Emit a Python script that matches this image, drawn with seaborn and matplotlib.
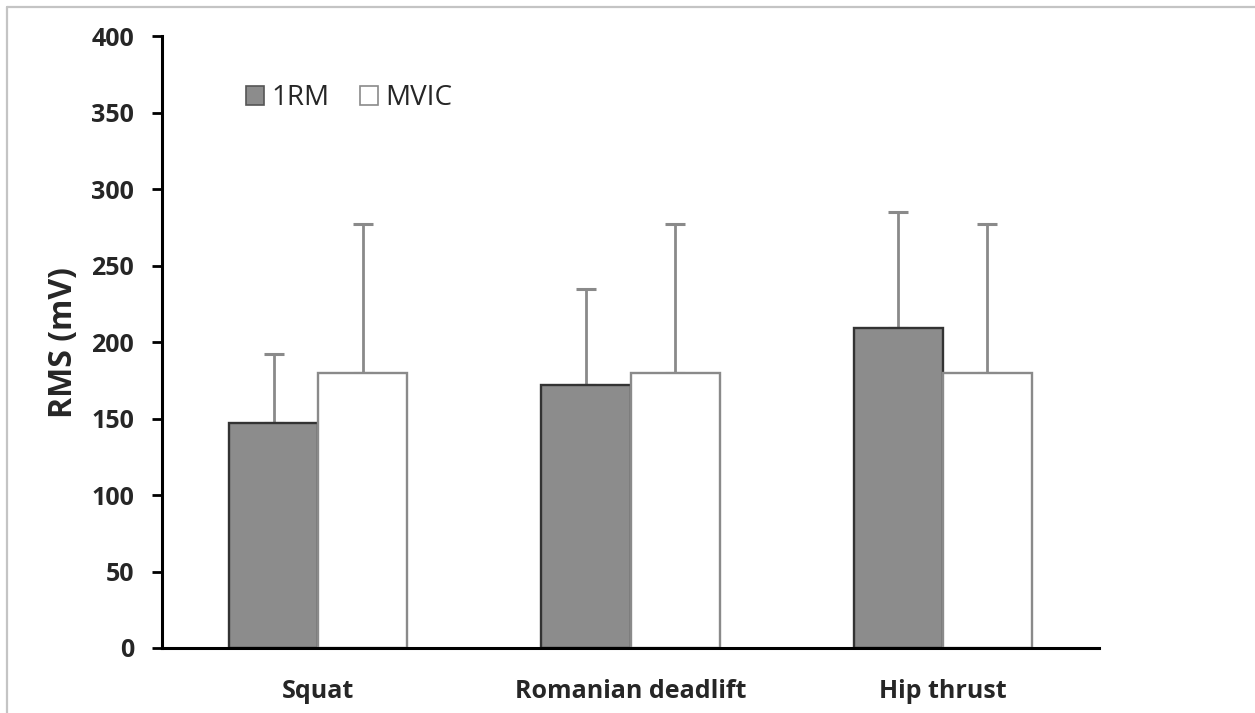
import matplotlib
matplotlib.use("Agg")
import matplotlib.pyplot as plt
from matplotlib.lines import Line2D
import seaborn as sns
import pandas as pd

# Mean RMS amplitude per exercise and condition, with standard deviations
exercises = ["Squat", "Romanian deadlift", "Hip thrust"]
conditions = ["1RM", "MVIC"]
rm_mean = [147, 172, 209]
rm_sd = [45, 63, 76]
mvic_mean = [180, 180, 180]
mvic_sd = [97, 97, 97]
y_ticks = [0, 50, 100, 150, 200, 250, 300, 350, 400]

df = pd.DataFrame({
    "exercise": exercises * 2,
    "condition": [conditions[0]] * 3 + [conditions[1]] * 3,
    "rms": rm_mean + mvic_mean,
})
sds = {conditions[0]: rm_sd, conditions[1]: mvic_sd}

sns.set_theme(style="white")
plt.rcParams["font.family"] = ["Open Sans", "DejaVu Sans"]

fig = plt.figure(figsize=(12.55, 7.13), dpi=100)
ax = fig.add_axes([0.1291, 0.0912, 0.7466, 0.8579])

fills = {"1RM": "#8c8c8c", "MVIC": "#ffffff"}
edges = {"1RM": "#333333", "MVIC": "#8a8a8a"}

sns.barplot(data=df, x="exercise", y="rms", hue="condition",
            hue_order=conditions, order=exercises, palette=fills,
            width=0.57, errorbar=None, saturation=1, ax=ax, zorder=2)

# Outline colours and one-sided SD whiskers for each bar
for cond, cont in zip(conditions, ax.containers):
    for bar, sd in zip(cont, sds[cond]):
        bar.set_edgecolor(edges[cond])
        bar.set_linewidth(1.7)
        xc = bar.get_x() + bar.get_width() / 2
        ax.errorbar(xc, bar.get_height(), yerr=[[0], [sd]], fmt="none",
                    ecolor="#8a8a8a", elinewidth=2.0, capsize=7,
                    capthick=2.2, zorder=1)

ax.set_xlim(-0.5, 2.5)
ax.set_ylim(0, 400)
ax.set_yticks(y_ticks)
ax.set_yticklabels([str(t) for t in y_ticks], fontsize=18, fontweight="bold")
ax.set_xticks(range(len(exercises)))
ax.set_xticklabels(exercises, fontsize=18, fontweight="bold")
ax.tick_params(axis="y", direction="out", length=7, width=2, color="black",
               pad=13, left=True)
ax.tick_params(axis="x", length=0, pad=22)
ax.set_xlabel("")
ax.set_ylabel("RMS (mV)", fontsize=23, fontweight="bold")
ax.yaxis.set_label_coords(-0.0875, 0.5)

for side in ["top", "right"]:
    ax.spines[side].set_visible(False)
for side in ["left", "bottom"]:
    ax.spines[side].set_color("black")
    ax.spines[side].set_linewidth(2.2)

handles, labels = ax.get_legend_handles_labels()
for h, cond in zip(handles, conditions):
    h.set_edgecolor(edges[cond] if cond == "MVIC" else "#555555")
    h.set_linewidth(1.2)
ax.legend(handles, labels, ncol=2, frameon=False, loc="center left",
          bbox_to_anchor=(0.09, 0.899), borderaxespad=0, borderpad=0,
          handlelength=0.65, handleheight=0.65, handletextpad=0.25,
          columnspacing=1.1, prop={"family": "Open Sans", "size": 20})

# Light frame along the top and left edges of the figure
W, H = 1255, 713
fig.add_artist(Line2D([7 / W, 1.0], [1 - 7 / H, 1 - 7 / H],
                      transform=fig.transFigure, color="#c4c4c4", lw=1.6))
fig.add_artist(Line2D([7 / W, 7 / W], [0.0, 1 - 7 / H],
                      transform=fig.transFigure, color="#c4c4c4", lw=1.6))

fig.savefig("out.png", dpi=100)
